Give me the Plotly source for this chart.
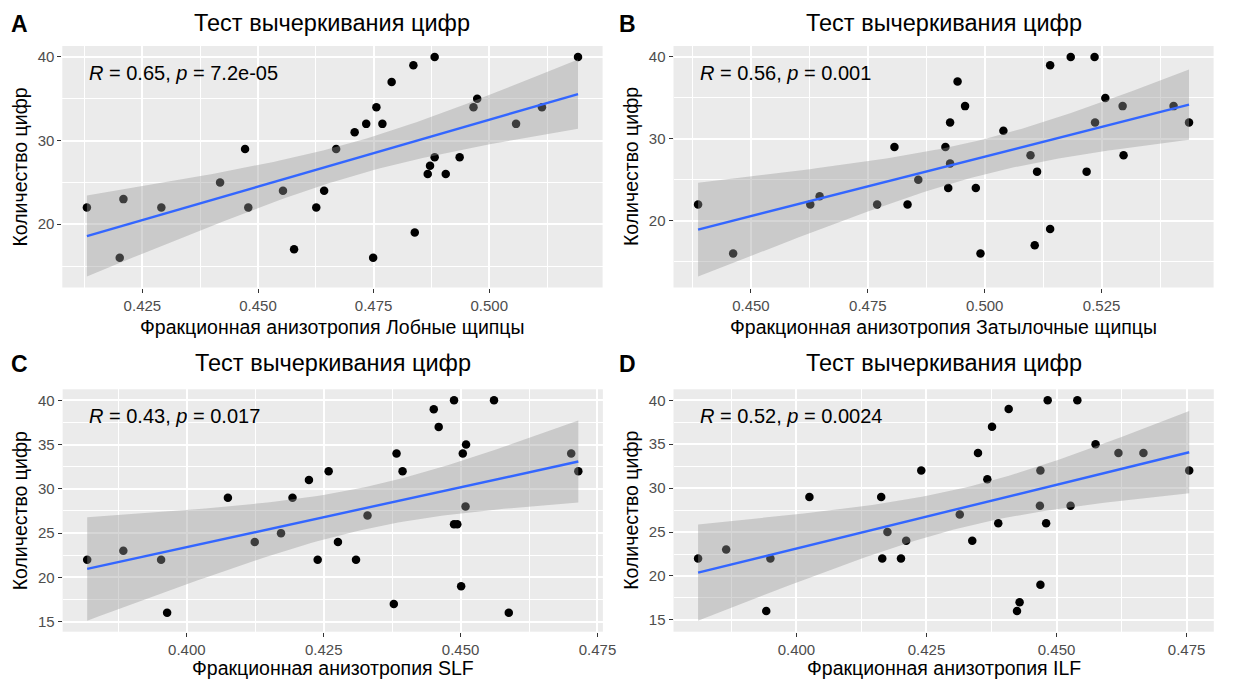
import numpy as np
import plotly.graph_objects as go

# ---------------- data ----------------
title_text = "Тест вычеркивания цифр"
y_title = "Количество цифр"

a_x = [0.4130, 0.4209, 0.4201, 0.4291, 0.4418, 0.4472, 0.4479, 0.4554, 0.4578, 0.4626, 0.4643, 0.4669,
       0.4709, 0.4734, 0.4756, 0.4769, 0.4789, 0.4836, 0.4882, 0.4749, 0.4839, 0.4867, 0.4872, 0.4882,
       0.4906, 0.4936, 0.4966, 0.4974, 0.5058, 0.5114, 0.5192]
a_y = [22, 23, 16, 22, 25, 29, 22, 24, 17, 22, 24, 29,
       31, 32, 34, 32, 37, 39, 40, 16, 19, 26, 27, 28,
       26, 28, 34, 35, 32, 34, 40]

b_x = [0.4387, 0.4462, 0.4627, 0.4647, 0.4770, 0.4807, 0.4835, 0.4858, 0.4916, 0.4926, 0.4926, 0.4922,
       0.4942, 0.4958, 0.4981, 0.4991, 0.5040, 0.5098, 0.5107, 0.5112, 0.5140, 0.5140, 0.5184, 0.5218,
       0.5235, 0.5236, 0.5258, 0.5295, 0.5297, 0.5404, 0.5437]
b_y = [22, 16, 22, 23, 22, 29, 22, 25, 29, 32, 27, 24,
       37, 34, 24, 16, 31, 28, 17, 26, 39, 19, 40, 26,
       40, 32, 35, 34, 28, 34, 32]

c_x = [0.3818, 0.3884, 0.3953, 0.3964, 0.4075, 0.4124, 0.4172, 0.4193, 0.4223, 0.4239, 0.4259, 0.4276,
       0.4309, 0.4330, 0.4378, 0.4383, 0.4394, 0.4451, 0.4460, 0.4488, 0.4488, 0.4494, 0.4501, 0.4504,
       0.4510, 0.4509, 0.4561, 0.4588, 0.4702, 0.4715]
c_y = [22, 23, 22, 16, 29, 24, 25, 29, 31, 22, 32, 24,
       22, 27, 17, 34, 32, 39, 37, 40, 26, 26, 19, 34,
       35, 28, 40, 16, 34, 32]

d_x = [0.3811, 0.3865, 0.3950, 0.3942, 0.4025, 0.4163, 0.4165, 0.4175, 0.4201, 0.4211, 0.4240,
       0.4314, 0.4338, 0.4349, 0.4367, 0.4376, 0.4388, 0.4408, 0.4424, 0.4429, 0.4469, 0.4468,
       0.4469, 0.4480, 0.4483, 0.4527, 0.4540, 0.4575, 0.4619, 0.4667, 0.4755]
d_y = [22, 23, 22, 16, 29, 29, 22, 25, 22, 24, 32,
       27, 24, 34, 31, 37, 26, 39, 16, 17, 32, 28,
       19, 26, 40, 28, 40, 35, 34, 34, 32]

panel_letters = ["A", "B", "C", "D"]
x_titles = ["Фракционная анизотропия Лобные щипцы",
            "Фракционная анизотропия Затылочные щипцы",
            "Фракционная анизотропия SLF",
            "Фракционная анизотропия ILF"]
stat_labels = ["<i>R</i> = 0.65, <i>p</i> = 7.2e-05",
               "<i>R</i> = 0.56, <i>p</i> = 0.001",
               "<i>R</i> = 0.43, <i>p</i> = 0.017",
               "<i>R</i> = 0.52, <i>p</i> = 0.0024"]
y_dticks = [10, 10, 5, 5]

# ---------------- layout geometry (pixels) ----------------
W, H = 1233, 681
# (left, right, top, bottom) of panel areas
boxes = [(63, 609, 46, 287.5), (680.7, 1226.5, 46, 287.5),
         (63.3, 609.3, 389.3, 631.7), (680.7, 1226.7, 389.3, 631.7)]

T975 = {27: 2.0518, 28: 2.0484, 29: 2.0452, 30: 2.0423}

FONT = "Liberation Sans, Arial, sans-serif"
fig = go.Figure()
layout = dict(width=W, height=H, margin=dict(l=0, r=0, t=0, b=0),
              paper_bgcolor="white", plot_bgcolor="#EBEBEB", showlegend=False,
              font=dict(family=FONT, color="black"))
annotations = []

datasets = [(a_x, a_y), (b_x, b_y), (c_x, c_y), (d_x, d_y)]
for i, (xs, ys) in enumerate(datasets):
    xs = np.array(xs, float)
    ys = np.array(ys, float)
    n = len(xs)
    b1, b0 = np.polyfit(xs, ys, 1)
    xg = np.linspace(xs.min(), xs.max(), 80)
    pred = b0 + b1 * xg
    resid = ys - (b0 + b1 * xs)
    s = np.sqrt(np.sum(resid ** 2) / (n - 2))
    sxx = np.sum((xs - xs.mean()) ** 2)
    se = s * np.sqrt(1.0 / n + (xg - xs.mean()) ** 2 / sxx)
    t = T975[n - 2]
    lo, hi = pred - t * se, pred + t * se

    xr = [xs.min(), xs.max()]
    xspan = xr[1] - xr[0]
    x_range = [xr[0] - 0.05 * xspan, xr[1] + 0.05 * xspan]
    ymin = min(ys.min(), lo.min())
    ymax = max(ys.max(), hi.max())
    yspan = ymax - ymin
    y_range = [ymin - 0.05 * yspan, ymax + 0.05 * yspan]

    sfx = "" if i == 0 else str(i + 1)
    xa, ya = "x" + sfx, "y" + sfx

    fig.add_trace(go.Scatter(x=xs, y=ys, mode="markers", xaxis=xa, yaxis=ya,
                             marker=dict(color="black", size=8.5), hoverinfo="skip"))
    fig.add_trace(go.Scatter(x=np.concatenate([xg, xg[::-1]]), y=np.concatenate([hi, lo[::-1]]),
                             mode="lines", fill="toself", fillcolor="rgba(153,153,153,0.4)",
                             line=dict(width=0), xaxis=xa, yaxis=ya, hoverinfo="skip"))
    fig.add_trace(go.Scatter(x=xg, y=pred, mode="lines", line=dict(color="#3366FF", width=2.4),
                             xaxis=xa, yaxis=ya, hoverinfo="skip"))

    L, R, T, B = boxes[i]
    axcommon = dict(showgrid=True, gridcolor="white", gridwidth=1.6, zeroline=False, showline=False,
                    ticks="outside", ticklen=4, tickwidth=1.1, tickcolor="#333333",
                    tickfont=dict(family=FONT, size=15, color="#4D4D4D"))
    layout["xaxis" + sfx] = dict(axcommon, domain=[L / W, R / W], range=x_range, anchor=ya,
                                 dtick=0.025, tick0=0, tickformat=".3f",
                                 minor=dict(dtick=0.0125, tick0=0, showgrid=True,
                                            gridcolor="white", gridwidth=0.8))
    layout["yaxis" + sfx] = dict(axcommon, domain=[1 - B / H, 1 - T / H], range=y_range, anchor=xa,
                                 dtick=y_dticks[i], tick0=0,
                                 minor=dict(dtick=y_dticks[i] / 2, tick0=0, showgrid=True,
                                            gridcolor="white", gridwidth=0.8))

    cx = (L + R) / 2
    row_top = 0 if i < 2 else 340
    # title
    annotations.append(dict(text=title_text, x=cx / W, y=1 - (row_top + 22.5) / H, xref="paper", yref="paper",
                            showarrow=False, xanchor="center", yanchor="middle",
                            font=dict(family=FONT, size=23.5, color="black")))
    # panel letter
    annotations.append(dict(text="<b>" + panel_letters[i] + "</b>", x=(9 + (0 if i % 2 == 0 else 615)) / W,
                            y=1 - (row_top + 24) / H, xref="paper", yref="paper", showarrow=False,
                            xanchor="left", yanchor="middle",
                            font=dict(family=FONT, size=23, color="black")))
    # x axis title
    annotations.append(dict(text=x_titles[i], x=cx / W, y=1 - (B + (39 if i < 2 else 36)) / H,
                            xref="paper", yref="paper",
                            showarrow=False, xanchor="center", yanchor="middle",
                            font=dict(family=FONT, size=19.5, color="black")))
    # y axis title
    annotations.append(dict(text=y_title, x=(20 + (0 if i % 2 == 0 else 617)) / W, y=1 - ((T + B) / 2) / H,
                            xref="paper", yref="paper", showarrow=False, textangle=-90,
                            xanchor="center", yanchor="middle",
                            font=dict(family=FONT, size=19.5, color="black")))
    # stat label
    annotations.append(dict(text=stat_labels[i], x=0.0455, y=0.89, xref=xa + " domain", yref=ya + " domain",
                            showarrow=False, xanchor="left", yanchor="middle",
                            font=dict(family=FONT, size=20, color="black")))

layout["annotations"] = annotations
fig.update_layout(**layout)
fig.write_html("out.html", config={"displayModeBar": False},
               post_script="document.body.style.margin='0';document.body.style.overflow='hidden';")
